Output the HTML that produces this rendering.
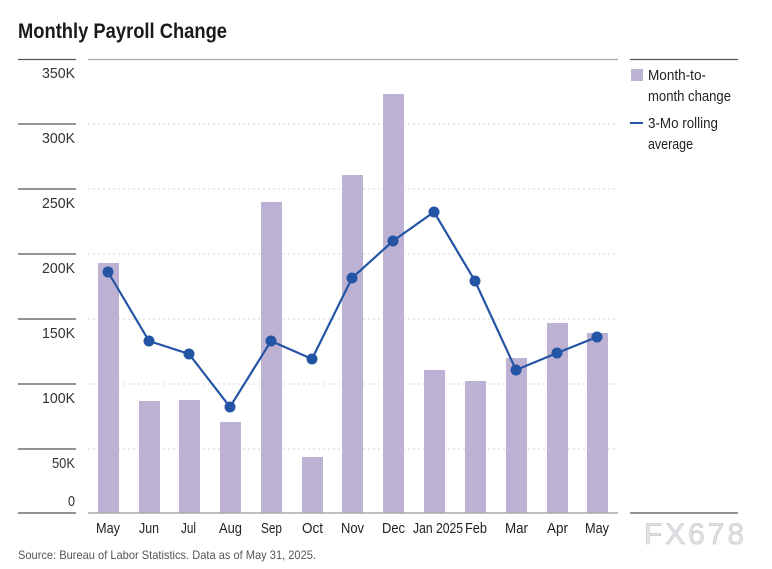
<!DOCTYPE html>
<html><head><meta charset="utf-8"><style>body{margin:0;background:#fff}svg{display:block}</style></head><body>
<svg width="772" height="569" xmlns="http://www.w3.org/2000/svg" font-family="'Liberation Sans',sans-serif">
<rect width="772" height="569" fill="#fff"/>
<text x="18" y="38" font-size="21" font-weight="bold" fill="#1a1a1a" textLength="209" lengthAdjust="spacingAndGlyphs">Monthly Payroll Change</text>
<g stroke="#555" stroke-width="1.3">
<line x1="18" y1="59.5" x2="76" y2="59.5"/><line x1="18" y1="124" x2="76" y2="124"/><line x1="18" y1="189" x2="76" y2="189"/><line x1="18" y1="254" x2="76" y2="254"/><line x1="18" y1="319" x2="76" y2="319"/><line x1="18" y1="384" x2="76" y2="384"/><line x1="18" y1="449" x2="76" y2="449"/><line x1="18" y1="513" x2="76" y2="513"/>
<line x1="630" y1="59.5" x2="738" y2="59.5"/><line x1="630" y1="513" x2="738" y2="513"/>
</g>
<line x1="88" y1="59.5" x2="618" y2="59.5" stroke="#aaa" stroke-width="1.3"/>
<g stroke="#ddd" stroke-width="1.2" stroke-dasharray="2,3">
<line x1="88" y1="124" x2="618" y2="124"/><line x1="88" y1="189" x2="618" y2="189"/><line x1="88" y1="254" x2="618" y2="254"/><line x1="88" y1="319" x2="618" y2="319"/><line x1="88" y1="384" x2="618" y2="384"/><line x1="88" y1="449" x2="618" y2="449"/>
</g>
<g font-size="15" fill="#333">
<text x="42" y="78" textLength="33" lengthAdjust="spacingAndGlyphs">350K</text><text x="42" y="143" textLength="33" lengthAdjust="spacingAndGlyphs">300K</text><text x="42" y="208" textLength="33" lengthAdjust="spacingAndGlyphs">250K</text><text x="42" y="273" textLength="33" lengthAdjust="spacingAndGlyphs">200K</text><text x="42" y="338" textLength="33" lengthAdjust="spacingAndGlyphs">150K</text><text x="42" y="403" textLength="33" lengthAdjust="spacingAndGlyphs">100K</text><text x="52" y="468" textLength="23" lengthAdjust="spacingAndGlyphs">50K</text><text x="68" y="506" textLength="7" lengthAdjust="spacingAndGlyphs">0</text>
</g>
<g fill="#bdb2d4">
<rect x="98" y="263" width="21" height="250"/><rect x="139" y="401" width="21" height="112"/><rect x="179" y="400" width="21" height="113"/><rect x="220" y="422" width="21" height="91"/><rect x="261" y="202" width="21" height="311"/><rect x="302" y="457" width="21" height="56"/><rect x="342" y="175" width="21" height="338"/><rect x="383" y="94" width="21" height="419"/><rect x="424" y="370" width="21" height="143"/><rect x="465" y="381" width="21" height="132"/><rect x="506" y="358" width="21" height="155"/><rect x="547" y="323" width="21" height="190"/><rect x="587" y="333" width="21" height="180"/>
</g>
<line x1="88" y1="513" x2="618" y2="513" stroke="#aaa" stroke-width="1.5"/>
<polyline fill="none" stroke="#2454a4" stroke-width="2.2" points="108,272 149,341 189,354 230,407 271,341 312,359 352,278 393,241 434,212 475,281 516,370 557,353 597,337"/>
<g fill="#2454a4">
<circle cx="108" cy="272" r="5.5"/><circle cx="149" cy="341" r="5.5"/><circle cx="189" cy="354" r="5.5"/><circle cx="230" cy="407" r="5.5"/><circle cx="271" cy="341" r="5.5"/><circle cx="312" cy="359" r="5.5"/><circle cx="352" cy="278" r="5.5"/><circle cx="393" cy="241" r="5.5"/><circle cx="434" cy="212" r="5.5"/><circle cx="475" cy="281" r="5.5"/><circle cx="516" cy="370" r="5.5"/><circle cx="557" cy="353" r="5.5"/><circle cx="597" cy="337" r="5.5"/>
</g>
<g font-size="15" fill="#222">
<text x="96" y="533" textLength="24" lengthAdjust="spacingAndGlyphs">May</text>
<text x="139" y="533" textLength="20" lengthAdjust="spacingAndGlyphs">Jun</text>
<text x="181" y="533" textLength="15" lengthAdjust="spacingAndGlyphs">Jul</text>
<text x="219" y="533" textLength="23" lengthAdjust="spacingAndGlyphs">Aug</text>
<text x="261" y="533" textLength="21" lengthAdjust="spacingAndGlyphs">Sep</text>
<text x="302" y="533" textLength="21" lengthAdjust="spacingAndGlyphs">Oct</text>
<text x="341" y="533" textLength="23" lengthAdjust="spacingAndGlyphs">Nov</text>
<text x="382" y="533" textLength="23" lengthAdjust="spacingAndGlyphs">Dec</text>
<text x="413" y="533" textLength="50" lengthAdjust="spacingAndGlyphs">Jan 2025</text>
<text x="465" y="533" textLength="22" lengthAdjust="spacingAndGlyphs">Feb</text>
<text x="505" y="533" textLength="23" lengthAdjust="spacingAndGlyphs">Mar</text>
<text x="547" y="533" textLength="21" lengthAdjust="spacingAndGlyphs">Apr</text>
<text x="585" y="533" textLength="24" lengthAdjust="spacingAndGlyphs">May</text>
</g>
<rect x="631" y="69" width="12" height="12" fill="#bdb2d4"/>
<line x1="630" y1="123" x2="643" y2="123" stroke="#2454a4" stroke-width="2"/>
<g font-size="15" fill="#222">
<text x="648" y="80" textLength="58" lengthAdjust="spacingAndGlyphs">Month-to-</text><text x="648" y="101" textLength="83" lengthAdjust="spacingAndGlyphs">month change</text><text x="648" y="128" textLength="70" lengthAdjust="spacingAndGlyphs">3-Mo rolling</text><text x="648" y="149" textLength="45" lengthAdjust="spacingAndGlyphs">average</text>
</g>
<text x="18" y="559" font-size="12" fill="#555" textLength="298" lengthAdjust="spacingAndGlyphs">Source: Bureau of Labor Statistics. Data as of May 31, 2025.</text>
<text x="644" y="544" font-size="30" fill="#dbe4f0" stroke="#c9b8a8" stroke-width="0.5" textLength="100" lengthAdjust="spacing">FX678</text>
</svg>
</body></html>
